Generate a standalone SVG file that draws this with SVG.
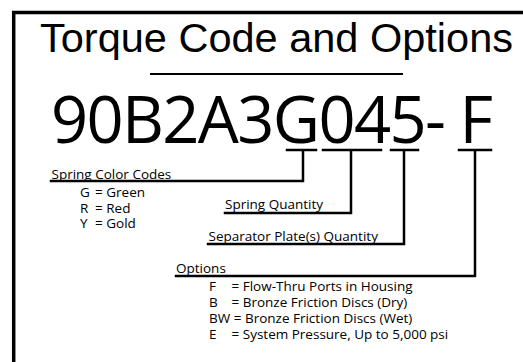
<svg xmlns="http://www.w3.org/2000/svg" width="523" height="362" viewBox="0 0 523 362">
  <style>
    .frame { stroke: #000; stroke-width: 3.5; fill: none; }
    .conn { stroke: #000; stroke-width: 2.5; fill: none; stroke-linecap: square; }
    .title { font-family: "Liberation Sans", Arial, sans-serif; font-size: 41.5px; fill: #000; }
    .code { font-family: "Open Sans", "Noto Sans", sans-serif; font-size: 65px; fill: #000; }
    .lbl { font-family: "Open Sans", "Noto Sans", sans-serif; font-size: 13.5px; fill: #000; }
  </style>
  <rect width="523" height="362" fill="#fff"/>
  <g id="frame">
    <line class="frame" x1="13.7" y1="11" x2="13.7" y2="362"/>
    <line class="frame" x1="12" y1="12.5" x2="523" y2="12.5"/>
  </g>
  <g id="title">
    <text class="title" x="276.5" y="52" text-anchor="middle">Torque Code and Options</text>
    <line x1="150" y1="74" x2="403" y2="74" stroke="#000" stroke-width="2"/>
  </g>
  <g id="code">
    <text class="code" x="51" y="143" textLength="442" lengthAdjust="spacing" xml:space="preserve">90B2A3G045- F</text>
  </g>
  <g id="connectors">
    <path class="conn" d="M287,150 H316 M303,150 V181 H51"/>
    <path class="conn" d="M323,150 H381 M351,150 V213 H225"/>
    <path class="conn" d="M391,150 H418 M404,150 V244 H208"/>
    <path class="conn" d="M459,150 H491 M475,150 V276 H176"/>
  </g>
  <g id="spring-color-codes">
    <text class="lbl" x="51.5" y="178.5">Spring Color Codes</text>
    <text class="lbl" y="197"><tspan x="80">G</tspan><tspan x="95">= Green</tspan></text>
    <text class="lbl" y="212.5"><tspan x="80">R</tspan><tspan x="95">= Red</tspan></text>
    <text class="lbl" y="228"><tspan x="80">Y</tspan><tspan x="95">= Gold</tspan></text>
  </g>
  <g id="spring-quantity">
    <text class="lbl" x="225" y="209">Spring Quantity</text>
  </g>
  <g id="separator-quantity">
    <text class="lbl" x="208.5" y="240.5">Separator Plate(s) Quantity</text>
  </g>
  <g id="options">
    <text class="lbl" x="176" y="272.5">Options</text>
    <text class="lbl" y="290.5"><tspan x="209">F</tspan><tspan x="231.5">= Flow-Thru Ports in Housing</tspan></text>
    <text class="lbl" y="306.5"><tspan x="209">B</tspan><tspan x="231.5">= Bronze Friction Discs (Dry)</tspan></text>
    <text class="lbl" y="322.5"><tspan x="209">BW = Bronze Friction Discs (Wet)</tspan></text>
    <text class="lbl" y="338.5"><tspan x="209">E</tspan><tspan x="231.5">= System Pressure, Up to 5,000 psi</tspan></text>
  </g>
</svg>
